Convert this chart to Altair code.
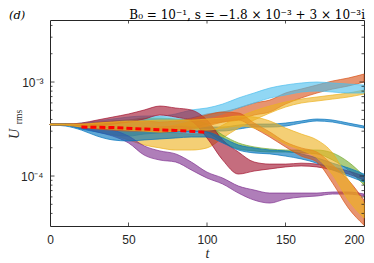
import altair as alt
import pandas as pd

# time samples (t) at which envelopes were read
t = [0, 10, 20, 30, 40, 50, 60, 70, 80, 90, 100, 110, 120, 130, 140, 150, 160, 170, 180, 190, 200]

# upper / lower envelopes of each oscillating U_rms curve
blue_a_hi = [3.57e-4, 3.57e-4, 3.48e-4, 3.40e-4, 3.32e-4, 3.32e-4, 3.40e-4, 3.40e-4, 3.40e-4, 3.32e-4, 3.32e-4, 3.32e-4, 3.48e-4, 3.57e-4, 3.57e-4, 3.66e-4, 3.85e-4, 4.04e-4, 3.94e-4, 3.66e-4, 3.40e-4]
blue_a_lo = [3.50e-4, 3.48e-4, 3.16e-4, 2.94e-4, 2.73e-4, 2.66e-4, 2.80e-4, 2.87e-4, 2.94e-4, 3.01e-4, 3.01e-4, 3.01e-4, 3.16e-4, 3.32e-4, 3.32e-4, 3.40e-4, 3.66e-4, 3.85e-4, 3.75e-4, 3.48e-4, 3.24e-4]

orange_r_hi = [3.57e-4, 3.57e-4, 3.57e-4, 3.75e-4, 3.85e-4, 3.94e-4, 4.04e-4, 4.04e-4, 3.94e-4, 4.14e-4, 4.57e-4, 4.80e-4, 5.29e-4, 5.98e-4, 6.43e-4, 7.64e-4, 8.42e-4, 9.29e-4, 1.025e-3, 1.103e-3, 1.216e-3]
orange_r_lo = [3.50e-4, 3.48e-4, 3.32e-4, 3.24e-4, 3.24e-4, 3.24e-4, 3.24e-4, 3.16e-4, 3.08e-4, 3.24e-4, 3.57e-4, 3.75e-4, 3.94e-4, 4.46e-4, 4.80e-4, 5.83e-4, 6.76e-4, 7.64e-4, 8.42e-4, 9.07e-4, 1.0e-3]

yellow_a_hi = [3.57e-4, 3.57e-4, 3.48e-4, 3.48e-4, 3.40e-4, 3.24e-4, 3.08e-4, 2.94e-4, 2.87e-4, 2.80e-4, 2.87e-4, 3.48e-4, 4.24e-4, 4.92e-4, 5.55e-4, 6.13e-4, 6.59e-4, 6.93e-4, 7.27e-4, 7.64e-4, 8.22e-4]
yellow_a_lo = [3.50e-4, 3.48e-4, 3.24e-4, 3.01e-4, 2.73e-4, 2.42e-4, 2.14e-4, 1.99e-4, 1.89e-4, 1.89e-4, 1.99e-4, 2.54e-4, 3.24e-4, 3.94e-4, 4.68e-4, 5.42e-4, 5.98e-4, 6.28e-4, 6.59e-4, 6.93e-4, 7.45e-4]

purple_hi = [3.57e-4, 3.57e-4, 3.48e-4, 3.32e-4, 3.08e-4, 2.66e-4, 2.09e-4, 1.85e-4, 1.72e-4, 1.41e-4, 1.10e-4, 9.52e-5, 7.83e-5, 7.10e-5, 6.59e-5, 6.59e-5, 6.59e-5, 6.59e-5, 6.76e-5, 6.76e-5, 6.43e-5]
purple_lo = [3.50e-4, 3.48e-4, 3.24e-4, 2.94e-4, 2.66e-4, 2.25e-4, 1.67e-4, 1.48e-4, 1.41e-4, 1.16e-4, 9.52e-5, 8.22e-5, 6.59e-5, 5.55e-5, 5.16e-5, 5.69e-5, 5.98e-5, 6.13e-5, 6.43e-5, 6.43e-5, 6.13e-5]

green_hi = [3.57e-4, 3.57e-4, 3.57e-4, 3.66e-4, 3.85e-4, 3.94e-4, 4.14e-4, 4.14e-4, 4.04e-4, 3.94e-4, 3.57e-4, 2.73e-4, 2.25e-4, 2.04e-4, 1.94e-4, 1.89e-4, 1.89e-4, 1.89e-4, 1.76e-4, 1.41e-4, 1.00e-4]
green_lo = [3.50e-4, 3.48e-4, 3.40e-4, 3.32e-4, 3.32e-4, 3.40e-4, 3.57e-4, 3.57e-4, 3.48e-4, 3.32e-4, 2.94e-4, 2.30e-4, 1.94e-4, 1.85e-4, 1.80e-4, 1.80e-4, 1.76e-4, 1.72e-4, 1.48e-4, 1.16e-4, 8.02e-5]

lightblue_hi = [3.57e-4, 3.57e-4, 3.66e-4, 3.85e-4, 4.04e-4, 4.24e-4, 4.35e-4, 4.35e-4, 4.57e-4, 5.04e-4, 5.29e-4, 5.83e-4, 6.76e-4, 7.64e-4, 8.63e-4, 9.29e-4, 9.76e-4, 1.0e-3, 9.76e-4, 9.52e-4, 9.29e-4]
lightblue_lo = [3.50e-4, 3.48e-4, 3.32e-4, 3.24e-4, 3.24e-4, 3.32e-4, 3.32e-4, 3.40e-4, 3.57e-4, 3.94e-4, 4.14e-4, 4.57e-4, 5.29e-4, 5.98e-4, 6.76e-4, 7.27e-4, 7.83e-4, 8.02e-4, 7.83e-4, 7.64e-4, 7.64e-4]

darkred_hi = [3.57e-4, 3.57e-4, 3.66e-4, 3.94e-4, 4.24e-4, 4.57e-4, 5.04e-4, 5.55e-4, 5.29e-4, 5.04e-4, 3.94e-4, 2.42e-4, 1.80e-4, 1.41e-4, 1.34e-4, 1.34e-4, 1.37e-4, 1.34e-4, 1.25e-4, 1.13e-4, 1.00e-4]
darkred_lo = [3.50e-4, 3.48e-4, 3.40e-4, 3.40e-4, 3.57e-4, 3.75e-4, 4.04e-4, 4.46e-4, 4.24e-4, 3.85e-4, 2.54e-4, 1.48e-4, 1.05e-4, 1.13e-4, 1.19e-4, 1.25e-4, 1.28e-4, 1.25e-4, 1.16e-4, 1.05e-4, 9.07e-5]

blue_b_hi = [3.57e-4, 3.57e-4, 3.40e-4, 3.32e-4, 3.24e-4, 3.16e-4, 3.16e-4, 3.08e-4, 3.08e-4, 3.01e-4, 2.94e-4, 2.54e-4, 2.14e-4, 1.99e-4, 1.89e-4, 1.85e-4, 1.72e-4, 1.56e-4, 1.37e-4, 1.22e-4, 1.05e-4]
blue_b_lo = [3.50e-4, 3.40e-4, 3.08e-4, 2.66e-4, 2.42e-4, 2.36e-4, 2.42e-4, 2.48e-4, 2.54e-4, 2.60e-4, 2.60e-4, 2.25e-4, 1.89e-4, 1.76e-4, 1.72e-4, 1.63e-4, 1.52e-4, 1.37e-4, 1.16e-4, 1.00e-4, 8.63e-5]

orange_f_hi = [3.57e-4, 3.57e-4, 3.57e-4, 3.66e-4, 3.75e-4, 3.75e-4, 3.85e-4, 3.75e-4, 3.85e-4, 4.04e-4, 4.46e-4, 4.80e-4, 4.68e-4, 3.66e-4, 2.94e-4, 2.30e-4, 1.99e-4, 1.80e-4, 1.31e-4, 9.07e-5, 5.55e-5]
orange_f_lo = [3.50e-4, 3.48e-4, 3.32e-4, 3.16e-4, 3.08e-4, 3.01e-4, 3.01e-4, 2.94e-4, 3.01e-4, 3.16e-4, 3.40e-4, 3.75e-4, 3.94e-4, 3.24e-4, 2.60e-4, 2.04e-4, 1.63e-4, 1.41e-4, 8.42e-5, 4.57e-5, 3.0e-5]

yellow_b_hi = [3.57e-4, 3.57e-4, 3.57e-4, 3.66e-4, 3.75e-4, 3.85e-4, 3.85e-4, 3.94e-4, 3.94e-4, 3.94e-4, 4.04e-4, 4.14e-4, 4.35e-4, 4.24e-4, 3.85e-4, 3.24e-4, 2.80e-4, 2.42e-4, 1.76e-4, 9.07e-5, 5.16e-5]
yellow_b_lo = [3.50e-4, 3.48e-4, 3.32e-4, 3.24e-4, 3.16e-4, 3.08e-4, 3.01e-4, 2.94e-4, 3.01e-4, 3.08e-4, 3.08e-4, 3.24e-4, 3.40e-4, 3.24e-4, 2.73e-4, 2.19e-4, 1.89e-4, 1.56e-4, 1.03e-4, 5.55e-5, 3.57e-5]

# red dashed reference curve
t_dash = [20, 40, 60, 80, 100]
u_dash = [3.32e-4, 3.28e-4, 3.16e-4, 3.05e-4, 2.92e-4]

series_names = ["s01", "s02", "s03", "s04", "s05", "s06", "s07", "s08", "s09", "s10"]
series_colors = ["#0072BD", "#D95319", "#EDB120", "#7E2F8E", "#77AC30",
                 "#4DBEEE", "#A2142F", "#0072BD", "#D95319", "#EDB120"]
series_hi = [blue_a_hi, orange_r_hi, yellow_a_hi, purple_hi, green_hi,
             lightblue_hi, darkred_hi, blue_b_hi, orange_f_hi, yellow_b_hi]
series_lo = [blue_a_lo, orange_r_lo, yellow_a_lo, purple_lo, green_lo,
             lightblue_lo, darkred_lo, blue_b_lo, orange_f_lo, yellow_b_lo]

# axis ticks
x_tick_values = [0, 50, 100, 150, 200]
x_inner_ticks = [50, 100, 150]
y_major_ticks = [1e-4, 1e-3]
y_minor_ticks = [4e-5, 5e-5, 6e-5, 7e-5, 8e-5, 9e-5,
                 2e-4, 3e-4, 4e-4, 5e-4, 6e-4, 7e-4, 8e-4, 9e-4,
                 2e-3, 3e-3, 4e-3]

title_text = "B\u2080 = 10\u207b\u00b9, s = \u22121.8 \u00d7 10\u207b\u00b3 + 3 \u00d7 10\u207b\u00b3i"

rows = []
for name, hi, lo in zip(series_names, series_hi, series_lo):
    for ti, h, l in zip(t, hi, lo):
        rows.append({"s": name, "t": ti, "hi": h, "lo": l})
df = pd.DataFrame(rows)

W, H = 314, 206
ink = "#262626"
xs = alt.Scale(domain=[0, 200], nice=False, zero=False)
ys = alt.Scale(type="log", domain=[2.94e-5, 4.57e-3], nice=False)
cs = alt.Scale(domain=series_names, range=series_colors)

xaxis = alt.Axis(
    values=x_tick_values, ticks=False, domain=False, grid=False, title="t",
    titleFont="Liberation Serif", titleFontStyle="italic", titleFontWeight="normal",
    titleFontSize=14, titleColor=ink, titlePadding=1,
    labelFont="Liberation Sans", labelFontSize=12, labelColor=ink, labelPadding=8,
    labelAlign={"condition": {"test": "datum.value >= 200", "value": "right"}, "value": "center"},
    labelFlush=False, labelOverlap=False, format="d")
yaxis = alt.Axis(
    values=y_major_ticks, ticks=False, domain=False, grid=False, title=None,
    labelExpr="datum.value < 0.0005 ? '10\u207b\u2074' : '10\u207b\u00b3'",
    labelFont="Liberation Sans", labelFontSize=12, labelColor=ink, labelPadding=7,
    labelOverlap=False)

areas = alt.Chart(df).mark_area(
    interpolate="monotone", fillOpacity=0.62, strokeWidth=0.7, strokeOpacity=1
).encode(
    x=alt.X("t:Q", scale=xs, axis=xaxis),
    y=alt.Y("lo:Q", scale=ys, axis=yaxis),
    y2="hi:Q",
    color=alt.Color("s:N", scale=cs, legend=None),
    stroke=alt.Stroke("s:N", scale=cs, legend=None),
)

dash = alt.Chart(pd.DataFrame({"t": t_dash, "lo": u_dash})).mark_line(
    color="#FF0000", strokeWidth=3, strokeDash=[6, 3]
).encode(x=alt.X("t:Q", scale=xs, axis=xaxis), y=alt.Y("lo:Q", scale=ys, axis=yaxis))

ymin_df = pd.DataFrame({"lo": y_minor_ticks})
ymaj_df = pd.DataFrame({"lo": y_major_ticks})
xt_df = pd.DataFrame({"t": x_inner_ticks})

def yrule(d, x0, x1):
    return alt.Chart(d).mark_rule(color=ink, strokeWidth=0.8).encode(
        y=alt.Y("lo:Q", scale=ys, axis=yaxis), x=alt.value(x0), x2=alt.value(x1))

def xrule(y0, y1):
    return alt.Chart(xt_df).mark_rule(color=ink, strokeWidth=0.8).encode(
        x=alt.X("t:Q", scale=xs, axis=xaxis), y=alt.value(y0), y2=alt.value(y1))

ticks = [
    yrule(ymin_df, 0, 2.5), yrule(ymin_df, W, W - 2.5),
    yrule(ymaj_df, 0, 4.5), yrule(ymaj_df, W, W - 4.5),
    xrule(H, H - 3.5), xrule(0, 3.5),
]

def label(txt, **kw):
    return alt.Chart(pd.DataFrame({"txt": [txt]})).mark_text(**kw).encode(text="txt:N")

title = label(title_text, align="right", baseline="alphabetic", font="DejaVu Serif",
              fontSize=12, color="#000000").encode(x=alt.value(W + 1), y=alt.value(-1.5))
panel = label("(d)", align="left", baseline="alphabetic", font="DejaVu Serif",
              fontSize=11.5, fontStyle="italic", color="#000000").encode(x=alt.value(-41), y=alt.value(-1.5))
ylab_u = label("U", align="center", baseline="middle", font="Liberation Serif",
               fontSize=14, fontStyle="italic", angle=270, color=ink).encode(x=alt.value(-35), y=alt.value(114))
ylab_rms = label("rms", align="center", baseline="middle", font="Liberation Serif",
                 fontSize=9.5, angle=270, color=ink).encode(x=alt.value(-31), y=alt.value(97))

chart = alt.layer(areas, dash, *ticks, title, panel, ylab_u, ylab_rms).properties(
    width=W, height=H,
    autosize=alt.AutoSizeParams(type="none"),
    padding={"left": 42, "top": 12, "right": 2, "bottom": 37},
    background="white",
).configure_view(stroke=ink, strokeWidth=1)

chart.save("out.html", embed_options={"renderer": "svg", "actions": False})
